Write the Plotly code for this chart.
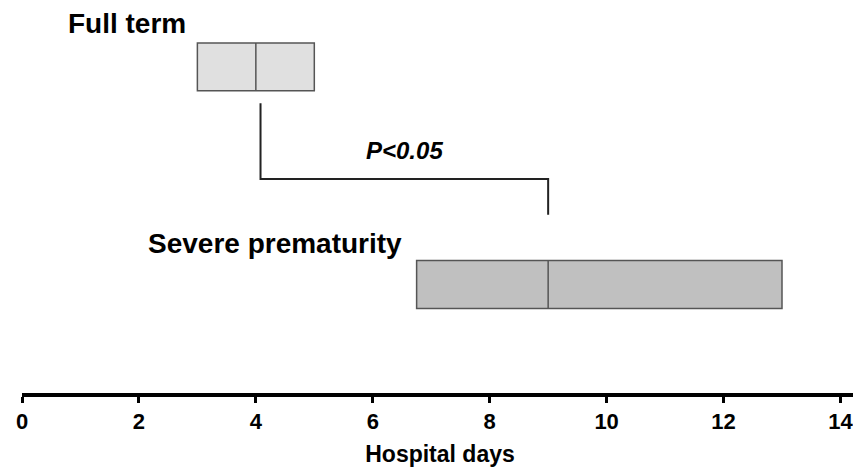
import plotly.graph_objects as go

# ---- data ----
groups = ["Full term", "Severe prematurity"]
q1_days = [3.0, 6.75]
median_days = [4.0, 9.0]
q3_days = [5.0, 13.0]
fill_colors = ["#e0e0e0", "#c0c0c0"]
group_pos = [1, 0]

x_ticks = [0, 2, 4, 6, 8, 10, 12, 14]
x_title = "Hospital days"
p_text = "P<0.05"
bracket_x = [4.08, 4.08, 9.0, 9.0]
bracket_y = [0.833, 0.485, 0.485, 0.320]

FONT = "Liberation Sans, Arial, sans-serif"

fig = go.Figure()
for g, a, m, b, c, p in zip(groups, q1_days, median_days, q3_days, fill_colors, group_pos):
    fig.add_trace(go.Box(
        y=[p], q1=[a], median=[m], q3=[b], lowerfence=[a], upperfence=[b],
        orientation="h", width=0.22, fillcolor=c,
        line=dict(color="#555555", width=1.5), whiskerwidth=0,
        boxpoints=False, name=g, showlegend=False, hoverinfo="skip",
    ))

fig.add_trace(go.Scatter(
    x=bracket_x, y=bracket_y, mode="lines",
    line=dict(color="#222222", width=2), showlegend=False, hoverinfo="skip",
))

label_x = [0.756, 2.124]
label_y = [1.202, 0.188]
for g, lx, ly in zip(groups, label_x, label_y):
    fig.add_annotation(x=lx, y=ly, xref="x", yref="y", text=g, showarrow=False,
                       xanchor="left", yanchor="middle",
                       font=dict(family=FONT, size=28, color="#000000", weight="bold"))

fig.add_annotation(x=6.55, y=0.614, xref="x", yref="y", text=p_text, showarrow=False,
                   xanchor="center", yanchor="middle",
                   font=dict(family=FONT, size=24, color="#000000", weight="bold", style="italic"))

fig.update_layout(
    width=853, height=466,
    margin=dict(l=14, r=3, t=0, b=81),
    plot_bgcolor="white", paper_bgcolor="white",
    xaxis=dict(
        range=[0, 14.3], tickvals=x_ticks, ticktext=[str(t) for t in x_ticks],
        showline=True, linecolor="#000000", linewidth=3.5,
        ticks="outside", ticklen=6, tickwidth=3, tickcolor="#000000",
        showgrid=False, zeroline=False,
        tickfont=dict(family=FONT, size=22, color="#000000", weight="bold"),
        title=dict(text=x_title, standoff=14,
                   font=dict(family=FONT, size=23, color="#000000", weight="bold")),
    ),
    yaxis=dict(
        range=[-0.499, 1.271], showticklabels=False, showgrid=False,
        zeroline=False, showline=False, ticks="",
    ),
)

fig.write_html("out.html")
